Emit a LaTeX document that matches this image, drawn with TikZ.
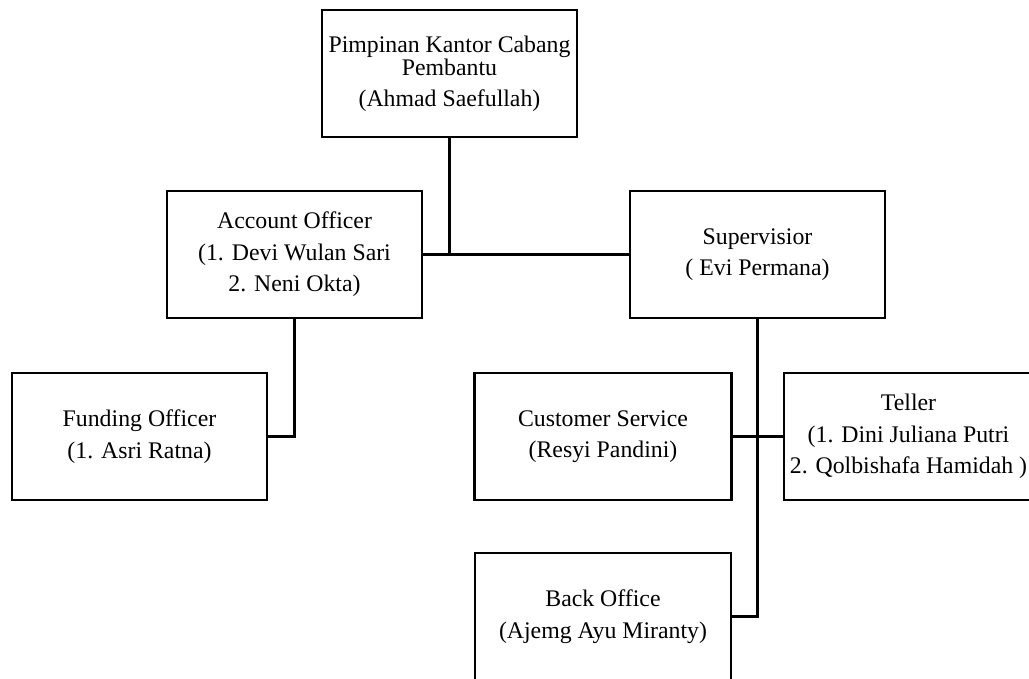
\documentclass[tikz,border=0pt]{standalone}
\usepackage{fontspec}
\setmainfont{Liberation Serif}
\begin{document}
\begin{tikzpicture}[x=1pt,y=-1pt,
  box/.style={draw, line width=2.7pt, inner sep=0pt, align=center,
    minimum width=255pt, minimum height=127pt,
    font=\fontsize{23.8}{31.5}\selectfont},
  link/.style={line width=2.7pt}]
\clip (0,0) rectangle (1029,678);
\fill[white] (0,0) rectangle (1029,678);
\node[box] (top) at (449.5,73.5) {Pimpinan Kantor Cabang\\[-8pt]Pembantu\\[-1pt](Ahmad Saefullah)};
\node[box] (AO) at (294.5,254.5) {Account Officer\\(1. Devi Wulan Sari\\2. Neni Okta)};
\node[box] (Sup) at (757.5,254.5) {Supervisior\\( Evi Permana)};
\node[box] (FO) at (139.5,436.5) {Funding Officer\\(1. Asri Ratna)};
\node[box, minimum width=257pt] (CS) at (603,436.5) {Customer Service\\(Resyi Pandini)};
\node[box, minimum width=249pt] (Teller) at (908.5,436.5) {Teller\\(1. Dini Juliana Putri\\2. Qolbishafa Hamidah )};
\node[box, minimum width=256pt] (BO) at (603,616.5) {Back Office\\(Ajemg Ayu Miranty)};
\coordinate (mid) at (top.south |- AO.east);
\draw[link] (top.south) -- (mid);
\draw[link] (AO.east) -- (Sup.west);
\draw[link] (AO.south) |- (FO.east);
\draw[link] (Sup.south) |- (BO.east);
\draw[link] (CS.east) -- (Teller.west);
\end{tikzpicture}
\end{document}
